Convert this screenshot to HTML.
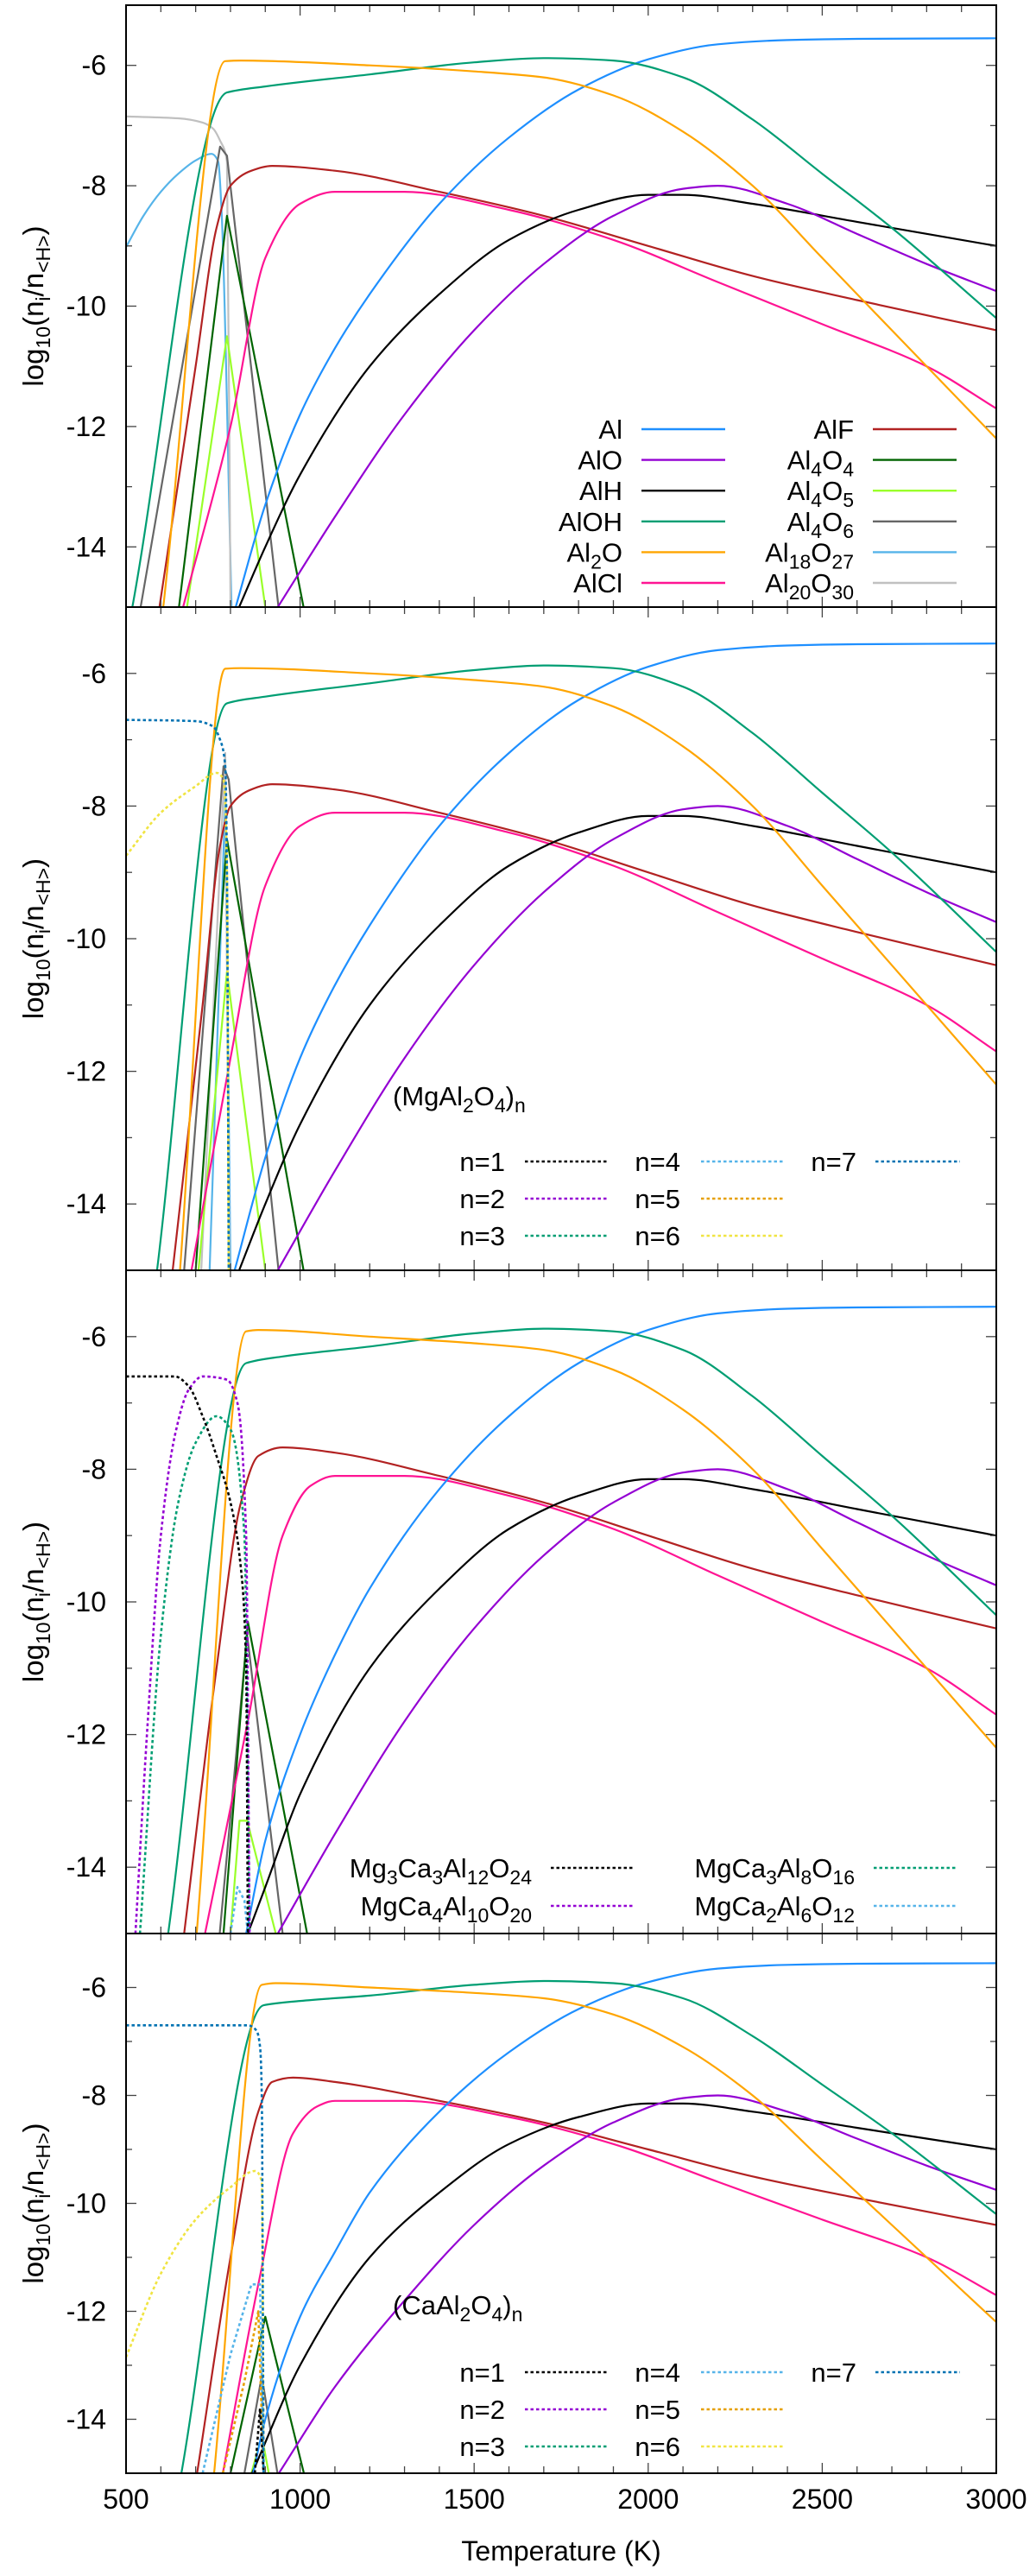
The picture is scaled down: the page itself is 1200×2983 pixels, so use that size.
<!DOCTYPE html>
<html><head><meta charset="utf-8">
<style>
html,body{margin:0;padding:0;background:#fff;}
svg{display:block;font-family:"Liberation Sans",Arial,sans-serif;}
</style></head>
<body>
<svg id="chart" width="1200" height="2983" viewBox="0 0 1200 2983" xmlns="http://www.w3.org/2000/svg"></svg>
<script>
// ---------- data (T in K, log10 abundance) ----------
const xTicks = [500,1000,1500,2000,2500,3000];
const yTicks = [-6,-8,-10,-12,-14];

const tailAl   = [[1200,-9.8],[1400,-8.3],[1600,-7.2],[1800,-6.4],[2000,-5.9],[2200,-5.65],[2400,-5.58],[2600,-5.56],[3000,-5.55]];
const tailAlO  = [[1300,-11.8],[1500,-10.4],[1700,-9.3],[1900,-8.5],[2100,-8.05],[2200,-8.0],[2400,-8.3],[2600,-8.8],[2800,-9.3],[3000,-9.75]];
const tailAlH  = [[1200,-11.0],[1400,-9.8],[1600,-8.9],[1800,-8.4],[2000,-8.15],[2100,-8.15],[2300,-8.3],[2600,-8.6],[3000,-9.0]];
const tailAlOH = [[1200,-6.15],[1500,-5.95],[1700,-5.88],[1900,-5.92],[2100,-6.2],[2300,-6.9],[2500,-7.8],[2700,-8.7],[3000,-10.2]];
const tailAl2O = [[1200,-6.0],[1500,-6.1],[1700,-6.2],[1900,-6.5],[2100,-7.1],[2300,-8.0],[2500,-9.2],[2700,-10.4],[3000,-12.2]];
const tailAlCl = [[1100,-8.1],[1300,-8.1],[1600,-8.4],[1900,-8.9],[2200,-9.6],[2500,-10.3],[2800,-11.0],[3000,-11.7]];
const tailAlF  = [[1100,-7.75],[1400,-8.1],[1700,-8.5],[2000,-9.0],[2300,-9.5],[2600,-9.9],[3000,-10.4]];

// panel 1 rises
const p1Al   = [[815,-15],[900,-13.3],[1000,-11.8],[1100,-10.7]];
const p1AlO  = [[936,-15],[1100,-13.5]];
const p1AlH  = [[825,-15],[900,-14],[1000,-12.8]];
const p1AlOH = [[518,-15],[790,-6.45],[900,-6.35]];
const p1Al2O = [[607,-15],[785,-5.93],[830,-5.92]];
const p1AlCl = [[664,-15],[800,-12],[900,-9.2],[1000,-8.3]];
const p1AlF  = [[596,-15],[700,-11],[760,-8.7],[800,-8.0],[860,-7.75],[920,-7.67]];
const p1Al4O4 = [[652,-15],[790,-8.5],[1010,-15]];
const p1Al4O5 = [[675,-15],[790,-10.5],[900,-15]];
const p1Al4O6 = [[542,-15],[770,-7.35],[790,-7.5],[938,-15]];
const p1Al18 = [[500,-9.02],[550,-8.5],[600,-8.1],[650,-7.8],[700,-7.58],[745,-7.47],[765,-7.6],[775,-8.5],[803,-15]];
const p1Al20 = [[500,-6.85],[650,-6.88],[720,-6.95],[750,-7.05],[770,-7.25],[790,-7.6],[800,-15]];

// panel 2 rises
const p2Al   = [[812,-15],[900,-13.3],[1000,-11.8],[1100,-10.7]];
const p2AlOH = [[589,-15],[790,-6.45],[900,-6.35]];
const p2Al2O = [[655,-15],[785,-5.93],[830,-5.92]];
const p2AlCl = [[688,-15],[800,-11.8],[900,-9.2],[1000,-8.3]];
const p2AlF  = [[634,-15],[720,-11],[770,-8.6],[800,-8.0],[860,-7.75],[920,-7.67]];
const p2Al4O4 = [[700,-15],[790,-8.5],[1010,-15]];
const p2Al4O5 = [[708,-15],[790,-10.5],[900,-15]];
const p2Al4O6 = [[667,-15],[780,-7.4],[795,-7.6],[938,-15]];
const p2Al18 = [[740,-15],[785,-7.9],[800,-15]];
const p2Al20 = [[716,-15],[785,-7.2],[797,-15]];
const p2n7 = [[500,-6.7],[700,-6.72],[750,-6.8],[770,-7.0],[785,-7.4],[790,-9],[795,-15]];
const p2n6 = [[500,-8.75],[600,-8.1],[700,-7.7],[760,-7.5],[780,-7.6],[790,-9],[795,-15]];

// panel 3 rises
const p3Al   = [[845,-15],[900,-13.6],[1000,-12.0],[1100,-10.8]];
const p3AlH  = [[850,-15],[900,-14.3],[1000,-12.9]];
const p3AlOH = [[621,-15],[845,-6.4],[950,-6.3]];
const p3Al2O = [[703,-15],[845,-5.92],[880,-5.9]];
const p3AlCl = [[727,-15],[850,-11.8],[950,-9.0],[1030,-8.25]];
const p3AlF  = [[667,-15],[760,-11],[830,-8.5],[880,-7.8],[950,-7.67]];
const p3Al4O4 = [[780,-15],[850,-10.3],[1020,-15]];
const p3Al4O5 = [[800,-15],[826,-13.3],[848,-13.3],[930,-15]];
const p3Al4O6 = [[769,-15],[848,-10.5],[950,-15]];
const p3MgCa3 = [[500,-6.6],[640,-6.6],[680,-6.75],[720,-7.2],[760,-7.8],[800,-8.5],[830,-9.5],[845,-11],[850,-15]];
const p3MgCa4 = [[527,-15],[560,-12],[600,-9],[640,-7.5],[680,-6.8],[720,-6.6],[790,-6.65],[820,-7.0],[845,-9],[855,-15]];
const p3MgCa3Al8 = [[540,-15],[600,-10.5],[650,-8.5],[700,-7.6],[760,-7.2],[800,-7.4],[840,-9],[855,-15]];
const p3MgCa2 = [[800,-15],[820,-14.3],[840,-14.5],[850,-15]];

// panel 4 rises
const p4Al   = [[865,-15],[900,-14.0],[1000,-12.1],[1100,-10.9]];
const p4AlO  = [[939,-15],[1100,-13.4]];
const p4AlH  = [[862,-15],[1000,-13.0]];
const p4AlOH = [[659,-15],[895,-6.33],[1000,-6.25]];
const p4Al2O = [[753,-15],[890,-5.95],[930,-5.92]];
const p4AlCl = [[778,-15],[880,-11.5],[980,-8.7],[1050,-8.2]];
const p4AlF  = [[704,-15],[800,-11],[880,-8.3],[920,-7.75],[980,-7.67]];
const p4Al4O4 = [[800,-15],[900,-12.1],[1011,-15]];
const p4Al4O5 = [[860,-15],[890,-14.3],[910,-15]];
const p4Al4O6 = [[840,-15],[890,-13.2],[935,-15]];
const p4n7 = [[500,-6.7],[850,-6.7],[875,-6.8],[885,-7.1],[890,-8],[893,-12],[895,-15]];
const p4n6 = [[500,-12.85],[600,-11.3],[700,-10.3],[800,-9.7],[870,-9.4],[890,-9.6],[895,-15]];
const p4n5 = [[778,-15],[840,-13.3],[880,-12],[895,-15]];
const p4n4 = [[720,-15],[800,-12.8],[860,-11.5],[885,-11.5],[895,-15]];
const p4n1 = [[870,-15],[885,-13.8],[895,-15]];

// ---------- layout ----------
const X0=146, X1=1154;
const panels=[{top:6,bot:703},{top:703,bot:1471},{top:1471,bot:2239},{top:2239,bot:2864}];
const C={Al:'#1e8fff',AlO:'#9400d3',AlH:'#000000',AlOH:'#009e73',Al2O:'#ffa500',AlCl:'#ff1493',AlF:'#b22222',
 Al4O4:'#006400',Al4O5:'#9aff2a',Al4O6:'#666666',Al18:'#56b4e9',Al20:'#c0c0c0',
 n1:'#000000',n2:'#9400d3',n3:'#009e73',n4:'#56b4e9',n5:'#e69f00',n6:'#f0e442',n7:'#0072b2'};

const svg=document.getElementById('chart');
const NS='http://www.w3.org/2000/svg';
function el(tag,attrs,parent){const e=document.createElementNS(NS,tag);for(const k in attrs)e.setAttribute(k,attrs[k]);(parent||svg).appendChild(e);return e;}
function xs(T){return X0+(T-500)*(X1-X0)/2500;}
function ysF(p){return v=>p.top+(-5-v)*(p.bot-p.top)/10;}

function linPath(P){return P.map((q,i)=>(i?'L':'M')+q[0].toFixed(1)+' '+q[1].toFixed(1)).join(' ');}
// monotone cubic (Fritsch-Carlson) path through pixel points
function monoPath(P){
  const n=P.length;
  if(n<=5)return linPath(P);
  const d=[],m=new Array(n);
  for(let i=0;i<n-1;i++)d.push((P[i+1][1]-P[i][1])/(P[i+1][0]-P[i][0]));
  m[0]=d[0];m[n-1]=d[n-2];
  for(let i=1;i<n-1;i++){
    if(d[i-1]*d[i]<=0)m[i]=0;
    else{const h0=P[i][0]-P[i-1][0],h1=P[i+1][0]-P[i][0];
      const w1=2*h1+h0,w2=h1+2*h0;
      m[i]=(w1+w2)/(w1/d[i-1]+w2/d[i]);}
  }
  let s='M'+P[0][0].toFixed(1)+' '+P[0][1].toFixed(1);
  for(let i=0;i<n-1;i++){
    const h=(P[i+1][0]-P[i][0])/3;
    s+=' C'+(P[i][0]+h).toFixed(1)+' '+(P[i][1]+m[i]*h).toFixed(1)+' '+(P[i+1][0]-h).toFixed(1)+' '+(P[i+1][1]-m[i+1]*h).toFixed(1)+' '+P[i+1][0].toFixed(1)+' '+P[i+1][1].toFixed(1);
  }
  return s;
}

function drawPanel(pi,series){
  const p=panels[pi], ys=ysF(p);
  const g=el('g',{});
  
  
  const cp=el('clipPath',{id:'clip'+pi},g);
  el('rect',{x:X0,y:p.top,width:X1-X0,height:p.bot-p.top},cp);
  const lg=el('g',{'clip-path':'url(#clip'+pi+')'},g);
  series.forEach(s=>{
    const P=s.pts.map(q=>[xs(q[0]),ys(q[1])]);
    const path=el('path',{d:monoPath(P),fill:'none',stroke:s.c,'stroke-width':s.dash?2.6:2.2,'stroke-linejoin':'round'},lg);
    if(s.dash)path.setAttribute('stroke-dasharray','3.5 3');
    
    
  });
  const tk=el('g',{stroke:'#444','stroke-width':1.3},g);
  for(let T=500;T<=3000;T+=100){
    const L=(T%500===0)?12:8;
    el('line',{x1:xs(T),y1:p.bot,x2:xs(T),y2:p.bot-L},tk);
    el('line',{x1:xs(T),y1:p.top,x2:xs(T),y2:p.top+L},tk);
  }
  for(let v=-14;v<=-6;v++){
    const L=(v%2===0)?12:7;
    el('line',{x1:X0,y1:ys(v),x2:X0+L,y2:ys(v)},tk);
    el('line',{x1:X1,y1:ys(v),x2:X1-L,y2:ys(v)},tk);
  }
  yTicks.forEach(v=>{
    const t=el('text',{x:123,y:ys(v)+11,'text-anchor':'end','font-size':32},g);
    t.textContent=v;
    
    
  });
  el('rect',{x:X0,y:p.top,width:X1-X0,height:p.bot-p.top,fill:'none',stroke:'#000','stroke-width':2},g);
  const cy=(p.top+p.bot)/2;
  const yt=el('text',{x:0,y:0,'font-size':33,'text-anchor':'middle',transform:'translate(50 '+cy+') rotate(-90)'},g);
  yt.innerHTML='log<tspan font-size="23" dy="8">10</tspan><tspan dy="-8">(n</tspan><tspan font-size="23" dy="8">i</tspan><tspan dy="-8">/n</tspan><tspan font-size="23" dy="8">&lt;H&gt;</tspan><tspan dy="-8">)</tspan>';
  
  
}

function base(pr){
  return [
   {n:'Al18O27',c:C.Al18,pts:pr.Al18||[]},{n:'Al20O30',c:C.Al20,pts:pr.Al20||[]},
   {n:'Al4O6',c:C.Al4O6,pts:pr.Al4O6},{n:'Al4O5',c:C.Al4O5,pts:pr.Al4O5},{n:'Al4O4',c:C.Al4O4,pts:pr.Al4O4},
   {n:'AlF',c:C.AlF,pts:pr.AlF.concat(tailAlF)},{n:'AlCl',c:C.AlCl,pts:pr.AlCl.concat(tailAlCl)},
   {n:'AlH',c:C.AlH,pts:pr.AlH.concat(tailAlH)},{n:'AlO',c:C.AlO,pts:pr.AlO.concat(tailAlO)},
   {n:'Al',c:C.Al,pts:pr.Al.concat(tailAl)},{n:'AlOH',c:C.AlOH,pts:pr.AlOH.concat(tailAlOH)},
   {n:'Al2O',c:C.Al2O,pts:pr.Al2O.concat(tailAl2O)}
  ];
}
const s1=base({Al:p1Al,AlO:p1AlO,AlH:p1AlH,AlOH:p1AlOH,Al2O:p1Al2O,AlCl:p1AlCl,AlF:p1AlF,Al4O4:p1Al4O4,Al4O5:p1Al4O5,Al4O6:p1Al4O6,Al18:p1Al18,Al20:p1Al20});
const s2=base({Al:p2Al,AlO:p1AlO,AlH:p1AlH,AlOH:p2AlOH,Al2O:p2Al2O,AlCl:p2AlCl,AlF:p2AlF,Al4O4:p2Al4O4,Al4O5:p2Al4O5,Al4O6:p2Al4O6,Al18:p2Al18,Al20:p2Al20})
  .concat([{n:'n6',c:C.n6,pts:p2n6,dash:1},{n:'n7',c:C.n7,pts:p2n7,dash:1}]);
const s3=base({Al:p3Al,AlO:p1AlO,AlH:p3AlH,AlOH:p3AlOH,Al2O:p3Al2O,AlCl:p3AlCl,AlF:p3AlF,Al4O4:p3Al4O4,Al4O5:p3Al4O5,Al4O6:p3Al4O6})
  .concat([{n:'MgCa3Al8O16',c:C.n3,pts:p3MgCa3Al8,dash:1},{n:'MgCa4Al10O20',c:C.n2,pts:p3MgCa4,dash:1},
           {n:'MgCa2Al6O12',c:C.n4,pts:p3MgCa2,dash:1},{n:'Mg3Ca3Al12O24',c:C.n1,pts:p3MgCa3,dash:1}]);
const s4=base({Al:p4Al,AlO:p4AlO,AlH:p4AlH,AlOH:p4AlOH,Al2O:p4Al2O,AlCl:p4AlCl,AlF:p4AlF,Al4O4:p4Al4O4,Al4O5:p4Al4O5,Al4O6:p4Al4O6})
  .concat([{n:'n6',c:C.n6,pts:p4n6,dash:1},{n:'n4',c:C.n4,pts:p4n4,dash:1},{n:'n5',c:C.n5,pts:p4n5,dash:1},
           {n:'n1',c:C.n1,pts:p4n1,dash:1},{n:'n7',c:C.n7,pts:p4n7,dash:1}]);
[s1,s2,s3,s4].forEach((s,i)=>drawPanel(i,s));

xTicks.forEach(T=>{
  const t=el('text',{x:xs(T),y:2905,'text-anchor':'middle','font-size':32});
  t.textContent=T;
  
  
});
const xt=el('text',{x:650,y:2965,'text-anchor':'middle','font-size':32});
xt.textContent='Temperature (K)';



function sub(html){return html.replace(/_(\d+|n)/g,'<tspan font-size="23" dy="8">$1</tspan><tspan dy="-8">\u200b</tspan>');}
function legEntry(label,x,lx1,lx2,y,c,dash,fs){
  const g=el('g',{});
  
  
  const t=el('text',{x:x,y:y+11,'text-anchor':'end','font-size':fs||31},g);
  t.innerHTML=sub(label);
  const l=el('line',{x1:lx1,y1:y,x2:lx2,y2:y,stroke:c,'stroke-width':dash?2.6:2.4},g);
  if(dash)l.setAttribute('stroke-dasharray','3.5 3');
}
const leg1a=[['Al','Al'],['AlO','AlO'],['AlH','AlH'],['AlOH','AlOH'],['Al_2O','Al2O'],['AlCl','AlCl']];
const leg1b=[['AlF','AlF'],['Al_4O_4','Al4O4'],['Al_4O_5','Al4O5'],['Al_4O_6','Al4O6'],['Al_18O_27','Al18'],['Al_20O_30','Al20']];
leg1a.forEach((e,i)=>legEntry(e[0],721,743,840,497+35.6*i,C[e[1]]));
leg1b.forEach((e,i)=>legEntry(e[0],989,1011,1108,497+35.6*i,C[e[1]]));

function nLegend(rows,titleY,title){
  const tt=el('text',{x:455,y:titleY,'font-size':31});
  tt.innerHTML=sub(title);
  
  
  const cols=[[585,608,704],[788,812,908],[992,1014,1112]];
  for(let n=1;n<=7;n++){
    const col=n<=3?0:(n<=6?1:2), row=n<=3?n-1:(n<=6?n-4:0);
    legEntry('n='+n,cols[col][0],cols[col][1],cols[col][2],rows[row],C['n'+n],1);
  }
}
nLegend([1345,1388,1431],1280,'(MgAl_2O_4)_n');
nLegend([2747,2790,2833],2680,'(CaAl_2O_4)_n');

legEntry('Mg_3Ca_3Al_12O_24',616,638,734,2163,C.n1,1);
legEntry('MgCa_4Al_10O_20',616,638,734,2207,C.n2,1);
legEntry('MgCa_3Al_8O_16',990,1012,1109,2163,C.n3,1);
legEntry('MgCa_2Al_6O_12',990,1012,1109,2207,C.n4,1);
</script>
</body></html>
